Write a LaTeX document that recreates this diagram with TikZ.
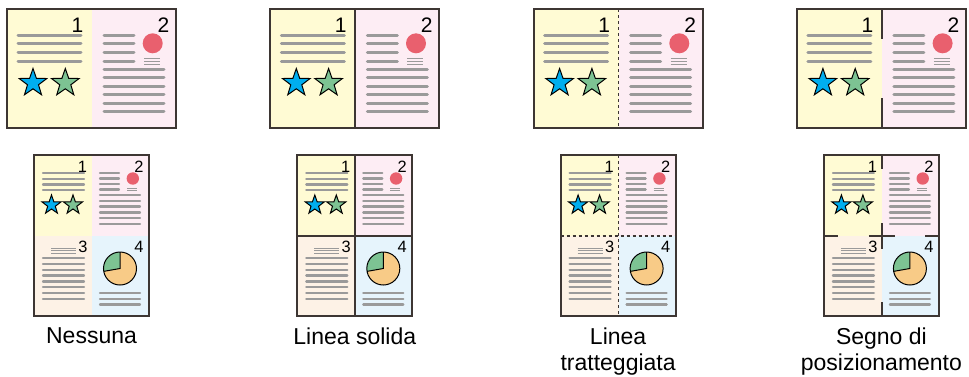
\documentclass[tikz,border=0pt]{standalone}
\usepackage{fontspec}
\setmainfont{Liberation Sans}
\usetikzlibrary{shapes.geometric}

\definecolor{edge}{HTML}{3D3633}
\definecolor{pageA}{HTML}{FFFBD4}
\definecolor{pageB}{HTML}{FDEDF4}
\definecolor{pageC}{HTML}{FDF2E6}
\definecolor{pageD}{HTML}{E6F4FC}
\definecolor{textgray}{HTML}{9A9A9A}
\definecolor{dotred}{HTML}{E9606E}
\definecolor{starblue}{HTML}{00AEEF}
\definecolor{stargreen}{HTML}{7DC393}
\definecolor{pieorange}{HTML}{F8CB87}

\begin{document}
\begin{tikzpicture}[
		% one unit is one pixel of the original, y runs downwards
		x=0.5pt,
		y=-0.5pt,
		sheet/.style={draw=edge, line width=1pt},
		txt/.style={draw=textgray, line width=1.5pt, line cap=round},
		smalltxt/.style={draw=textgray, line width=1.15pt, line cap=round},
		thintxt/.style={draw=textgray, line width=0.45pt},
		num/.style={inner sep=0pt, anchor=base},
		starnode/.style={star, star points=5, star point ratio=2.5, draw=black, line width=0.5pt, inner sep=0pt},
		lbl/.style={align=center, anchor=north, inner sep=0pt, font=\fontsize{11.5}{13.2}\selectfont},
		divider/.style={draw=edge, line width=1pt},
		dashdivider/.style={draw=edge, line width=0.6pt, dash pattern=on 1.5pt off 1.5pt},
		markdivider/.style={draw=edge, line width=0.8pt},
		% two pages side by side
		spread/.pic={
			\fill[pageA] (0,0) rectangle (85,119);
			\fill[pageB] (85,0) rectangle (169,119);
			\coordinate (-n) at (85,0);
			\coordinate (-s) at (85,119);
			% page 1
			\node[num, font=\fontsize{10.5}{12}\selectfont] (-p1) at (70.5,23) {1};
			\foreach \y in {26,34.7,43.3,52} \draw[txt] (11,\y) -- (74,\y);
			\node[starnode, fill=starblue, minimum size=14.5pt] (-sa) at (26,74) {};
			\node[starnode, fill=stargreen, minimum size=14.5pt] (-sb) at (58.3,74) {};
			% page 2
			\node[num, font=\fontsize{10.5}{12}\selectfont] (-p2) at (156.5,23) {2};
			\fill[dotred] (145.7,34.3) circle (10);
			\foreach \y in {26,34.7,43.3,52} \draw[txt] (97,\y) -- (127,\y);
			\foreach \y in {49,52,55} \draw[thintxt] (137,\y) -- (153,\y);
			\foreach \y in {60,68.5,77,85.5,94,102.5} \draw[txt] (97,\y) -- (157,\y);
			\draw[sheet] (0,0) rectangle (169,119);
		},
		% four pages on one sheet
		quad/.pic={
			\fill[pageA] (0,0) rectangle (58,81);
			\fill[pageB] (58,0) rectangle (115,81);
			\fill[pageC] (0,81) rectangle (58,161);
			\fill[pageD] (58,81) rectangle (115,161);
			\coordinate (-n) at (58,0);
			\coordinate (-s) at (58,161);
			\coordinate (-w) at (0,81);
			\coordinate (-e) at (115,81);
			\coordinate (-c) at (58,81);
			% page 1
			\node[num, font=\fontsize{8.2}{10}\selectfont] (-p1) at (48.5,17) {1};
			\foreach \y in {18,23.7,29.4,35} \draw[smalltxt] (9,\y) -- (50,\y);
			\node[starnode, fill=starblue, minimum size=10pt] (-sa) at (17.5,50) {};
			\node[starnode, fill=stargreen, minimum size=10pt] (-sb) at (39,50) {};
			% page 2
			\node[num, font=\fontsize{8.2}{10}\selectfont] (-p2) at (105,17) {2};
			\fill[dotred] (98.8,23.5) circle (6.2);
			\foreach \y in {18,23.5,29,34.5} \draw[smalltxt] (66,\y) -- (85,\y);
			\foreach \y in {33,35.5} \draw[thintxt] (93,\y) -- (103,\y);
			\foreach \y in {40,45.8,51.6,57.4,63.2,69} \draw[smalltxt] (66,\y) -- (106,\y);
			% page 3
			\node[num, font=\fontsize{8.2}{10}\selectfont] (-p3) at (49,97) {3};
			\foreach \y in {93.3,95.8,98.3} \draw[thintxt] (17,\y) -- (42,\y);
			\foreach \y in {103,108.9,114.7,120.6,126.4,132.3,138.2,144} \draw[smalltxt] (9,\y) -- (50,\y);
			% page 4
			\node[num, font=\fontsize{8.2}{10}\selectfont] (-p4) at (105,97) {4};
			\fill[stargreen] (86,113.5) -- +(-90:16.5) arc (-90:-190:16.5) -- cycle;
			\fill[pieorange] (86,113.5) -- +(-190:16.5) arc (-190:-450:16.5) -- cycle;
			\draw[black, line width=0.5pt] (86,113.5) circle (16.5);
			\draw[black, line width=0.5pt] (86,113.5) +(-90:16.5) -- (86,113.5) -- +(-190:16.5);
			\foreach \y in {138,143.8,149.6} \draw[smalltxt] (66,\y) -- (106,\y);
			\draw[sheet] (0,0) rectangle (115,161);
		}
		]
		
		\useasboundingbox (0,0) rectangle (969,376);
		
		% ==========================================
		% 1. The sheets of every column
		% ==========================================
		\foreach \c in {0,1,2,3} {
			\pic (top\c) at ({7+263.3*\c},9) {spread};
			\pic (bot\c) at ({34+263.3*\c},155) {quad};
		}
		
		% ==========================================
		% 2. Solid line
		% ==========================================
		\draw[divider] (top1-n) -- (top1-s);
		\draw[divider] (bot1-n) -- (bot1-s);
		\draw[divider] (bot1-w) -- (bot1-e);
		
		% ==========================================
		% 3. Dashed line
		% ==========================================
		\draw[dashdivider] (top2-n) -- (top2-s);
		\draw[dashdivider] (bot2-n) -- (bot2-s);
		\draw[dashdivider] (bot2-w) -- (bot2-e);
		
		% ==========================================
		% 4. Position marks
		% ==========================================
		\draw[markdivider] (top3-n) -- ++(0,30);
		\draw[markdivider] (top3-s) -- ++(0,-30);
		\draw[markdivider] (bot3-n) -- ++(0,14);
		\draw[markdivider] (bot3-s) -- ++(0,-14);
		\draw[markdivider] (bot3-w) -- ++(14,0);
		\draw[markdivider] (bot3-e) -- ++(-14,0);
		\draw[markdivider] (bot3-c) ++(-13,0) -- ++(26,0);
		\draw[markdivider] (bot3-c) ++(0,-13) -- ++(0,26);
		
		% ==========================================
		% 5. Captions
		% ==========================================
		\node[lbl] (cap0) at (91.5,327) {Nessuna};
		\node[lbl] (cap1) at (354.8,327) {Linea solida};
		\node[lbl] (cap2) at (618.1,327) {Linea\\tratteggiata};
		\node[lbl] (cap3) at (881.4,327) {Segno di\\posizionamento};
		
	\end{tikzpicture}
\end{document}
